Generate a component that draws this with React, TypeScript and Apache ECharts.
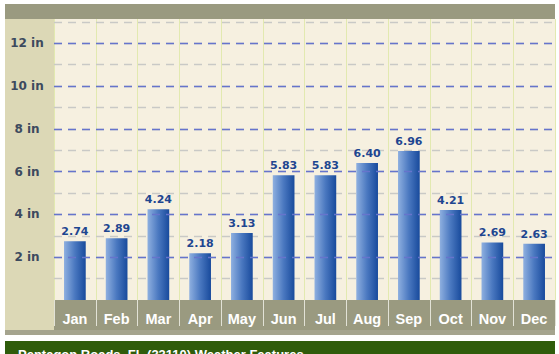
import React, { useEffect, useRef } from "react";
import * as echarts from "echarts";

const months = ["Jan", "Feb", "Mar", "Apr", "May", "Jun", "Jul", "Aug", "Sep", "Oct", "Nov", "Dec"];
const rainfall = [2.74, 2.89, 4.24, 2.18, 3.13, 5.83, 5.83, 6.4, 6.96, 4.21, 2.69, 2.63];
const yMin = 0;
const yMax = 13.13;
const majorInterval = 2;
const minorInterval = 1;
const footerTitle = "Pentagon Roads, FL (33110) Weather Features";

export default function App() {
  const ref = useRef<HTMLDivElement>(null);
  useEffect(() => {
    if (!ref.current) return;
    const chart = echarts.init(ref.current, null, { renderer: "svg" });
    const option: any = {
      animation: false,
      backgroundColor: "#ffffff",
      graphic: [
        { type: "rect", z: -10, shape: { x: 5, y: 4, width: 550, height: 15 }, style: { fill: "#9a9a80" } },
        { type: "rect", z: -10, shape: { x: 5, y: 19, width: 49, height: 312 }, style: { fill: "#dcd8b6" } },
        { type: "rect", z: -10, shape: { x: 54, y: 300, width: 501, height: 31 }, style: { fill: "#9a9a80" } },
        { type: "rect", z: -10, shape: { x: 5, y: 330, width: 550, height: 5 }, style: { fill: "#a5a48e" } },
        { type: "rect", z: -10, shape: { x: 5, y: 341, width: 550, height: 20 }, style: { fill: "#2f5c0b" } },
        {
          type: "text",
          z: 10,
          x: 18,
          y: 348,
          style: {
            text: footerTitle,
            fill: "#ffffff",
            font: "bold 13px 'Liberation Sans', Arial, sans-serif",
            textVerticalAlign: "top",
          },
        },
      ],
      grid: {
        left: 54,
        right: 4,
        top: 19,
        bottom: 54,
        show: true,
        backgroundColor: "#f6f0e0",
        borderWidth: 0,
      },
      xAxis: {
        type: "category",
        data: months,
        boundaryGap: true,
        axisLine: { show: false },
        axisTick: {
          show: true,
          inside: false,
          length: 26,
          lineStyle: { color: "#e2e2d6", width: 1 },
          interval: 0,
        },
        axisLabel: {
          color: "#ffffff",
          fontFamily: "'Liberation Sans', Arial, sans-serif",
          fontWeight: "bold",
          fontSize: 14.5,
          margin: 11,
        },
        splitLine: { show: true, lineStyle: { color: "#e2e9b0", width: 1 } },
      },
      yAxis: [
        {
          type: "value",
          min: yMin,
          max: yMax,
          interval: majorInterval,
          z: 3,
          axisLine: { show: false },
          axisTick: { show: false },
          axisLabel: {
            showMaxLabel: false,
            showMinLabel: false,
            align: "center",
            margin: 27,
            color: "#3c4a5e",
            fontFamily: "'DejaVu Sans', Verdana, sans-serif",
            fontWeight: "bold",
            fontSize: 12,
            formatter: (v: number) => (v > 0 ? `${v} in` : ""),
          },
          splitLine: {
            show: true,
            showMaxLine: false,
            showMinLine: false,
            lineStyle: { color: "#6674cc", type: [8, 6], width: 1.3 },
          },
        },
        {
          type: "value",
          position: "left",
          min: yMin,
          max: yMax,
          interval: minorInterval,
          z: 1,
          axisLine: { show: false },
          axisTick: { show: false },
          axisLabel: { show: false },
          splitLine: {
            show: true,
            showMaxLine: false,
            showMinLine: false,
            lineStyle: { color: "#c9c9c6", type: [8, 6], width: 1.3 },
          },
        },
      ],
      series: [
        {
          type: "bar",
          yAxisIndex: 0,
          data: rainfall,
          barWidth: "52%",
          itemStyle: {
            color: new echarts.graphic.LinearGradient(0, 0, 1, 0, [
              { offset: 0, color: "#8fb0e0" },
              { offset: 0.5, color: "#4a78c0" },
              { offset: 1, color: "#184a9c" },
            ]),
          },
          label: {
            show: true,
            position: "top",
            distance: 4,
            color: "#1e4690",
            fontFamily: "'DejaVu Sans', Verdana, sans-serif",
            fontWeight: "bold",
            fontSize: 11,
            formatter: (p: any) => p.value.toFixed(2),
          },
        },
      ],
    };
    chart.setOption(option);
    return () => chart.dispose();
  }, []);
  return (
    <div
      ref={ref}
      style={{ position: "fixed", left: 0, top: 0, width: 559, height: 354 }}
    />
  );
}
